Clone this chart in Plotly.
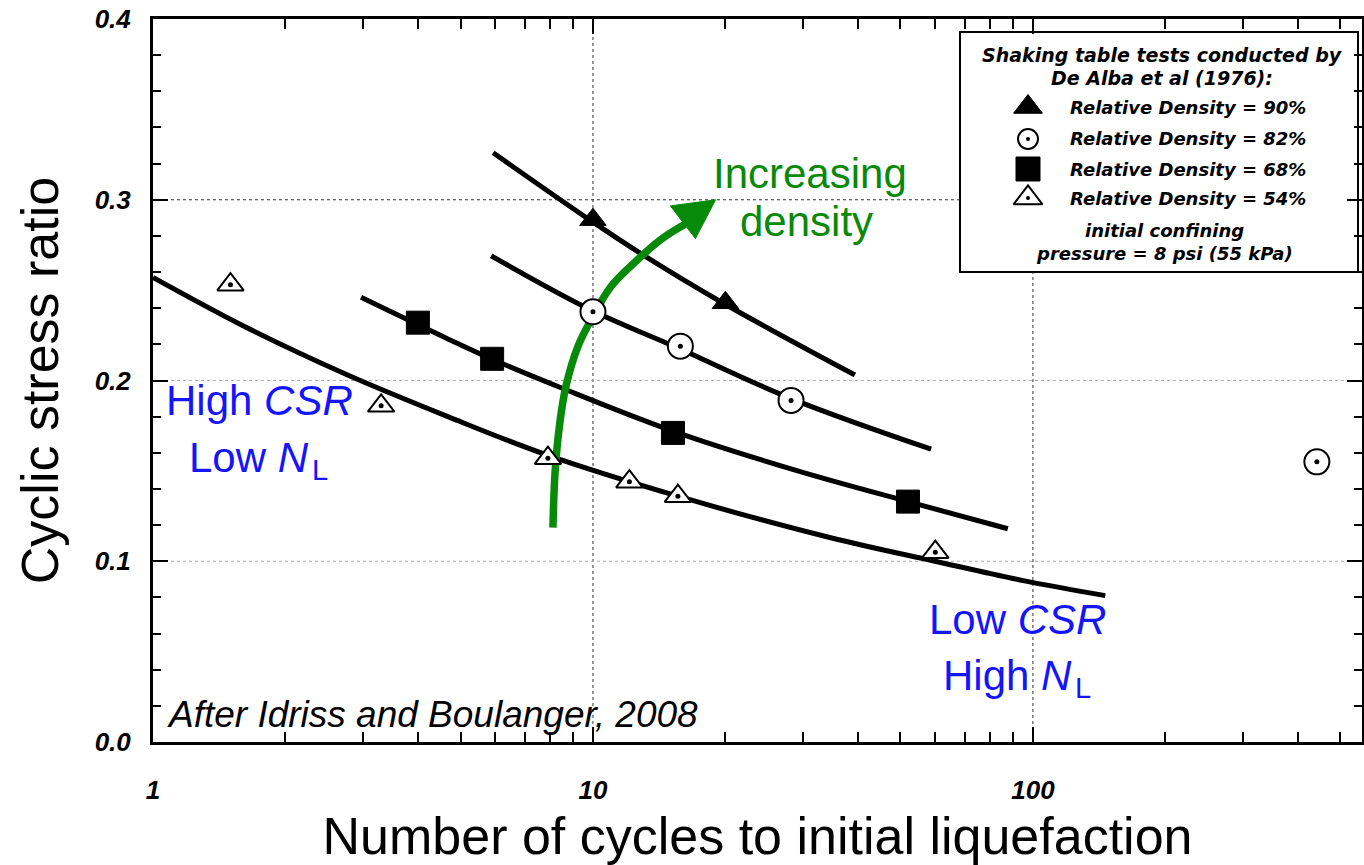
import plotly.graph_objects as go

# ---------------- data ----------------
# measured points (N = cycles to initial liquefaction, CSR = cyclic stress ratio)
dr90_N = [10.0, 20.0]
dr90_csr = [0.289, 0.243]
dr82_N = [10.0, 15.8, 28.2, 442.0]
dr82_csr = [0.238, 0.219, 0.189, 0.155]
dr68_N = [4.0, 5.9, 15.2, 52.0]
dr68_csr = [0.232, 0.212, 0.171, 0.133]
dr54_N = [1.5, 3.3, 7.9, 12.1, 15.6, 60.0]
dr54_csr = [0.253, 0.186, 0.157, 0.144, 0.136, 0.105]

# fitted curves
curve90_N = [5.93, 9.95, 12.7, 19.7, 39.4]
curve90_csr = [0.326, 0.288, 0.271, 0.243, 0.203]
curve82_N = [5.87, 9.9, 15.6, 28.2, 58.7]
curve82_csr = [0.269, 0.239, 0.218, 0.190, 0.162]
curve68_N = [2.97, 4.68, 5.87, 8.46, 15.2, 29.2, 52.0, 87.7]
curve68_csr = [0.246, 0.223, 0.212, 0.196, 0.172, 0.150, 0.133, 0.118]
curve54_N = [1.0, 1.64, 2.77, 4.68, 7.82, 15.6, 34.7, 59.9, 96.4, 146.0]
curve54_csr = [0.257, 0.229, 0.203, 0.180, 0.159, 0.136, 0.113, 0.100, 0.089, 0.081]

# "increasing density" arrow (annotation path)
arrow_N = [8.11, 8.20, 8.41, 8.68, 9.24, 10.0, 10.99, 12.45, 14.27, 16.18]
arrow_csr = [0.1186, 0.149, 0.1767, 0.1967, 0.2188, 0.2355, 0.252, 0.2654, 0.278, 0.2864]
arrowhead_N = [15.0, 19.0, 17.1, 15.0]
arrowhead_csr = [0.2966, 0.3000, 0.2785, 0.2966]

# axis ticks
x_major_ticks = [1, 10, 100]
x_major_text = ["1", "10", "100"]
x_minor_ticks = [2, 3, 4, 5, 6, 7, 8, 9, 20, 30, 40, 50, 60, 70, 80, 90, 200, 300, 400, 500]
y_ticks = [0.0, 0.1, 0.2, 0.3, 0.4]
X_LOG_MAX = 2.748
Y_MAX = 0.4

legend_labels = ["Relative Density = 90%", "Relative Density = 82%",
                 "Relative Density = 68%", "Relative Density = 54%"]

# ---------------- layout helpers ----------------
W, H = 1364, 865
L, R, T, B = 153, 1362, 19, 742


def px(x):
    return (x - L) / (R - L)


def py(y):
    return (B - y) / (B - T)


ARIAL = "Liberation Sans, Arial, sans-serif"
LEGFONT = "DejaVu Sans, Verdana, sans-serif"
BLUE = "#1414ff"
GREEN = "#078a07"

fig = go.Figure()

# curves
for cx, cy in [(curve90_N, curve90_csr), (curve82_N, curve82_csr),
               (curve68_N, curve68_csr), (curve54_N, curve54_csr)]:
    fig.add_trace(go.Scatter(x=cx, y=cy, mode="lines",
                             line=dict(color="black", width=5, shape="spline", smoothing=1.0),
                             hoverinfo="skip", showlegend=False))

# arrow
fig.add_trace(go.Scatter(x=arrow_N, y=arrow_csr, mode="lines",
                         line=dict(color=GREEN, width=7.5, shape="spline"),
                         hoverinfo="skip", showlegend=False))
fig.add_trace(go.Scatter(x=arrowhead_N, y=arrowhead_csr, mode="lines", fill="toself",
                         fillcolor=GREEN, line=dict(color=GREEN, width=1),
                         hoverinfo="skip", showlegend=False))

# markers
sym_styles = [
    dict(symbol="triangle-up", size=23, color="black", line=dict(color="black", width=1)),
    dict(symbol="circle", size=25, color="white", line=dict(color="black", width=2)),
    dict(symbol="square", size=23, color="black", line=dict(color="black", width=1)),
    dict(symbol="triangle-up", size=23, color="white", line=dict(color="black", width=2)),
]
has_dot = [False, True, False, True]
dot_style = dict(symbol="circle", size=5, color="black", line=dict(width=0))
for (mx, my), st, lab, dot in zip([(dr90_N, dr90_csr), (dr82_N, dr82_csr),
                                   (dr68_N, dr68_csr), (dr54_N, dr54_csr)],
                                  sym_styles, legend_labels, has_dot):
    fig.add_trace(go.Scatter(x=mx, y=my, mode="markers", marker=st, name=lab,
                             showlegend=False))
    if dot:
        fig.add_trace(go.Scatter(x=mx, y=my, mode="markers", marker=dot_style,
                                 hoverinfo="skip", showlegend=False))

# hand-made legend: symbols placed at fixed spots of the plot area
leg_rows = [107, 139, 169, 198]
leg_sizes = [25, 20, 24, 25]
leg_x = 10 ** (px(1028) * X_LOG_MAX)
for st, row, sz, dot in zip(sym_styles, leg_rows, leg_sizes, has_dot):
    m = dict(st)
    m["size"] = sz
    yy = py(row) * Y_MAX
    fig.add_trace(go.Scatter(x=[leg_x], y=[yy], mode="markers", marker=m,
                             hoverinfo="skip", showlegend=False))
    if dot:
        fig.add_trace(go.Scatter(x=[leg_x], y=[yy], mode="markers",
                                 marker=dict(dot_style, size=4),
                                 hoverinfo="skip", showlegend=False))

shapes = []
# legend box
shapes.append(dict(type="rect", xref="paper", yref="paper", layer="below",
                   x0=px(960), x1=px(1358), y0=py(272), y1=py(32),
                   line=dict(color="black", width=2), fillcolor="white"))
# dotted grid lines (stop at the legend box)
box_bottom = py(272)
box_left = px(960)
grid_dark = dict(color="#333", width=1, dash="dot")
grid_light = dict(color="#aaa", width=1, dash="dot")
shapes.append(dict(type="line", xref="paper", yref="paper", layer="below",
                   x0=1 / X_LOG_MAX, x1=1 / X_LOG_MAX, y0=0, y1=1, line=grid_dark))
shapes.append(dict(type="line", xref="paper", yref="paper", layer="below",
                   x0=2 / X_LOG_MAX, x1=2 / X_LOG_MAX, y0=0, y1=box_bottom, line=grid_dark))
shapes.append(dict(type="line", xref="paper", yref="paper", layer="below",
                   x0=0, x1=box_left, y0=0.3 / Y_MAX, y1=0.3 / Y_MAX, line=grid_dark))
for gy in (0.1, 0.2):
    shapes.append(dict(type="line", xref="paper", yref="paper", layer="below",
                       x0=0, x1=1, y0=gy / Y_MAX, y1=gy / Y_MAX, line=grid_light))

ann = []


def add_text(text, x, y, size, color="black", family=ARIAL, xanchor="center"):
    ann.append(dict(text=text, x=px(x), y=py(y), xref="paper", yref="paper",
                    xanchor=xanchor, yanchor="middle", showarrow=False,
                    font=dict(family=family, size=size, color=color)))


add_text("<b><i>Shaking table tests conducted by</i></b>", 1162, 55, 19, family=LEGFONT)
add_text("<b><i>De Alba et al (1976):</i></b>", 1162, 78, 19, family=LEGFONT)
for lab, row in zip(legend_labels, leg_rows):
    add_text("<b><i>" + lab + "</i></b>", 1068, row, 18, family=LEGFONT, xanchor="left")
add_text("<b><i>initial confining</i></b>", 1164, 231, 18, family=LEGFONT)
add_text("<b><i>pressure = 8 psi (55 kPa)</i></b>", 1164, 254, 18, family=LEGFONT)

add_text("Increasing", 810, 173, 42, color=GREEN)
add_text("density", 806, 221, 42, color=GREEN)
add_text("High <i>CSR</i>", 259, 400, 42, color=BLUE)
add_text("Low <i>N</i>", 311, 457, 42, color=BLUE, xanchor="right")
add_text("L", 310, 470, 29, color=BLUE, xanchor="left")
add_text("Low <i>CSR</i>", 1017, 619, 42, color=BLUE)
add_text("High <i>N</i>", 1074, 675, 42, color=BLUE, xanchor="right")
add_text("L", 1073, 688, 29, color=BLUE, xanchor="left")
add_text("<i>After Idriss and Boulanger, 2008</i>", 165, 714, 37, xanchor="left")

tickfont = dict(family=ARIAL, size=26, color="black", weight="bold", style="italic")

fig.update_layout(
    width=W, height=H,
    margin=dict(l=L, r=W - R, t=T, b=H - B, autoexpand=False),
    plot_bgcolor="rgba(0,0,0,0)", paper_bgcolor="white",
    showlegend=False,
    annotations=ann,
    shapes=shapes,
    xaxis=dict(
        type="log", range=[0, X_LOG_MAX],
        showline=True, linecolor="black", linewidth=3, mirror="ticks",
        ticks="inside", ticklen=15, tickwidth=2, tickcolor="black",
        tickmode="array", tickvals=x_major_ticks, ticktext=x_major_text,
        tickfont=tickfont, ticklabelstandoff=23,
        showgrid=False,
        minor=dict(ticks="inside", ticklen=10, tickwidth=1.5, tickcolor="black",
                   tickmode="array", tickvals=x_minor_ticks, showgrid=False),
        zeroline=False,
        title=dict(text="Number of cycles to initial liquefaction",
                   font=dict(family=ARIAL, size=52, color="black"), standoff=14),
    ),
    yaxis=dict(
        range=[0, Y_MAX],
        showline=True, linecolor="black", linewidth=3, mirror="ticks",
        ticks="inside", ticklen=15, tickwidth=2, tickcolor="black",
        tickmode="array", tickvals=y_ticks, tickformat=".1f",
        tickfont=tickfont, ticklabelstandoff=14,
        showgrid=False,
        minor=dict(ticks="inside", ticklen=8, tickwidth=1.5, tickcolor="black",
                   dtick=0.02, showgrid=False),
        zeroline=False,
        title=dict(text="Cyclic stress ratio",
                   font=dict(family=ARIAL, size=52, color="black"), standoff=20),
    ),
)

fig.write_html("out.html")
